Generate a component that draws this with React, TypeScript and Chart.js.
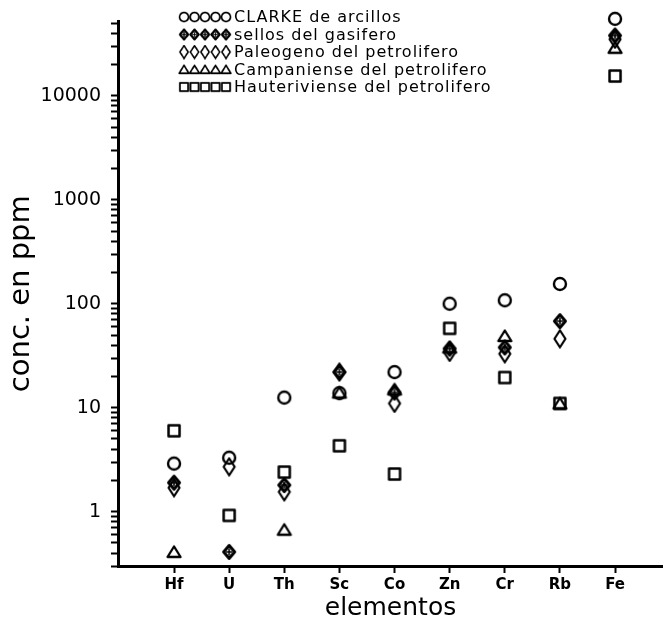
import React, { useEffect, useRef } from "react";
import { Chart, registerables } from "chart.js";

Chart.register(...registerables);

const categories = ["Hf", "U", "Th", "Sc", "Co", "Zn", "Cr", "Rb", "Fe"];
const clarke = [2.9, 3.3, 12.5, 13.8, 22, 100, 108, 155, 55000];
const sellos = [1.9, 0.41, 1.8, 22, 14, 37, 38, 68, 38000];
const paleogeno = [1.7, 2.7, 1.55, 22, 11, 34, 33, 46, 35000];
const campaniense = [0.41, null, 0.67, 14, 15, 38, 49, 11, 29000];
const hauteriviense = [6, 0.92, 2.4, 4.3, 2.3, 58, 19.5, 11, 15500];
const seriesLabels = [
  "CLARKE de arcillos",
  "sellos del gasifero",
  "Paleogeno del petrolifero",
  "Campaniense del petrolifero",
  "Hauteriviense del petrolifero",
];
const yLabelTicks = [1, 10, 100, 1000, 10000];
const yMinorSteps = [1, 2, 3, 4, 5, 6, 7, 8, 9];
const yDecades = [0.1, 1, 10, 100, 1000, 10000];

const FONT = "'DejaVu Sans', sans-serif";

function makeMarker(kind: string): HTMLCanvasElement {
  const c = document.createElement("canvas");
  c.width = 20;
  c.height = 20;
  const ctx = c.getContext("2d")!;
  ctx.strokeStyle = "#000";
  ctx.fillStyle = "#000";
  ctx.lineJoin = "round";
  ctx.lineWidth = 2.4;
  ctx.beginPath();
  if (kind === "circle") {
    ctx.arc(10, 10, 6, 0, Math.PI * 2);
    ctx.stroke();
  } else if (kind === "sellos") {
    ctx.lineWidth = 3;
    ctx.moveTo(10, 3.5);
    ctx.lineTo(15.5, 10);
    ctx.lineTo(10, 16.5);
    ctx.lineTo(4.5, 10);
    ctx.closePath();
    ctx.stroke();
    ctx.beginPath();
    ctx.lineWidth = 1.6;
    ctx.moveTo(10, 6.5);
    ctx.lineTo(10, 13.5);
    ctx.moveTo(7, 10);
    ctx.lineTo(13, 10);
    ctx.stroke();
  } else if (kind === "diamond") {
    ctx.lineWidth = 2.2;
    ctx.moveTo(10, 1.5);
    ctx.lineTo(15.5, 10);
    ctx.lineTo(10, 18.5);
    ctx.lineTo(4.5, 10);
    ctx.closePath();
    ctx.stroke();
  } else if (kind === "triangle") {
    ctx.lineWidth = 2.3;
    ctx.moveTo(10, 4.5);
    ctx.lineTo(16.5, 15);
    ctx.lineTo(3.5, 15);
    ctx.closePath();
    ctx.stroke();
  } else {
    ctx.lineWidth = 2.5;
    ctx.rect(4.5, 4.5, 11, 11);
    ctx.stroke();
  }
  return c;
}

export default function App() {
  const ref = useRef<HTMLCanvasElement>(null);

  useEffect(() => {
    if (!ref.current) return;
    const kinds = ["circle", "sellos", "diamond", "triangle", "square"];
    const markers = kinds.map(makeMarker);
    const series = [clarke, sellos, paleogeno, campaniense, hauteriviense];

    const datasets = series.map((arr, k) => ({
      label: seriesLabels[k],
      data: categories
        .map((_, i) => ({ x: i, y: arr[i] }))
        .filter((p) => p.y !== null && p.y !== undefined),
      pointStyle: markers[k],
      showLine: false,
      clip: false as any,
      borderColor: "#000",
      backgroundColor: "#000",
    }));

    const yTicks: number[] = [];
    yDecades.forEach((d) =>
      yMinorSteps.forEach((s) => {
        const v = +(d * s).toPrecision(3);
        if (v >= 0.3 && v <= 50000) yTicks.push(v);
      })
    );

    const legendPlugin = {
      id: "plotLegend",
      afterDraw(chart: any) {
        const ctx = chart.ctx;
        ctx.save();
        ctx.font = `16px ${FONT}`;
        try {
          (ctx as any).letterSpacing = "1px";
        } catch (e) {}
        ctx.fillStyle = "#000";
        ctx.textBaseline = "middle";
        ctx.textAlign = "left";
        series.forEach((_, k) => {
          const y = 17 + k * 17.5;
          for (let i = 0; i < 5; i++) {
            const cx = 184 + i * 10.5;
            const m = markers[k];
            const sz = 15;
            ctx.drawImage(m, cx - sz / 2, y - sz / 2, sz, sz);
          }
          ctx.fillText(seriesLabels[k], 234, y + 1);
        });
        ctx.restore();
      },
    };

    const chart = new Chart(ref.current, {
      type: "scatter",
      data: { datasets: datasets as any },
      plugins: [legendPlugin],
      options: {
        animation: false,
        responsive: false,
        maintainAspectRatio: false,
        layout: { autoPadding: false, padding: { left: 0, right: 0, top: 17, bottom: 0 } },
        plugins: {
          legend: { display: false },
          tooltip: { enabled: false },
        },
        scales: {
          x: {
            type: "linear",
            min: -1.016,
            max: 8.87,
            afterBuildTicks: (s: any) => {
              s.ticks = categories.map((_, i) => ({ value: i }));
            },
            afterFit: (s: any) => {
              s.height = 57;
            },
            ticks: {
              autoSkip: false,
              maxRotation: 0,
              padding: 3,
              color: "#000",
              font: { family: FONT, size: 15, weight: "bold" },
              callback: (v: any) => categories[v as number] ?? "",
            },
            grid: {
              display: true,
              drawOnChartArea: false,
              drawTicks: true,
              tickLength: 7,
              tickWidth: 2,
              tickColor: "#000",
            },
            border: { display: true, color: "#000", width: 3 },
            title: {
              display: true,
              text: "elementos",
              color: "#000",
              font: { family: FONT, size: 25 },
              padding: { top: 0, bottom: 0 },
            },
          },
          y: {
            type: "logarithmic",
            min: 0.3,
            max: 52000,
            afterBuildTicks: (s: any) => {
              s.ticks = yTicks.map((v) => ({ value: v, major: yLabelTicks.includes(v) }));
            },
            afterFit: (s: any) => {
              s.width = 118;
            },
            ticks: {
              autoSkip: false,
              padding: 10,
              color: "#000",
              font: { family: FONT, size: 19 },
              callback: (v: any) => (yLabelTicks.includes(v as number) ? String(v) : ""),
            },
            grid: {
              display: true,
              drawOnChartArea: false,
              drawTicks: true,
              tickLength: 7,
              tickWidth: 2,
              tickColor: "#000",
            },
            border: { display: true, color: "#000", width: 3 },
            title: {
              display: true,
              text: "conc. en ppm",
              color: "#000",
              font: { family: FONT, size: 29 },
              padding: { top: 4, bottom: 0 },
            },
          },
        },
      },
    });
    return () => chart.destroy();
  }, []);

  return (
    <div style={{ position: "absolute", left: 0, top: 0, width: 663, height: 623, background: "#fff" }}>
      <canvas ref={ref} width={663} height={623} style={{ display: "block" }} />
    </div>
  );
}
